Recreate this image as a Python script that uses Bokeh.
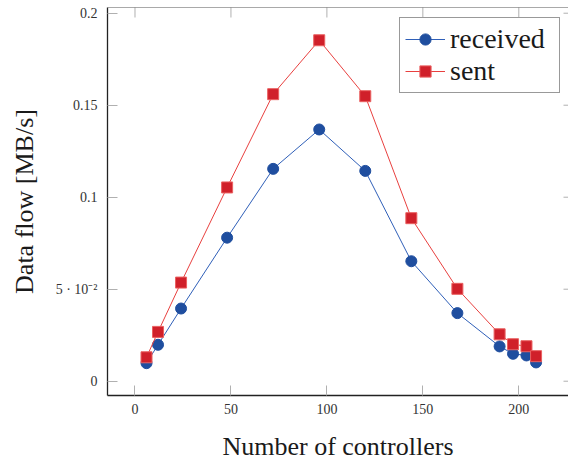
import math
from bokeh.plotting import figure
from bokeh.models import Range1d, FixedTicker, Legend, LegendItem, Span
from bokeh.embed import file_html
from bokeh.resources import INLINE

controllers = [6, 12, 24, 48, 72, 96, 120, 144, 168, 190, 197, 204, 209]
received = [0.0098, 0.0198, 0.0395, 0.078, 0.1154, 0.1368, 0.1143, 0.0652,
            0.037, 0.0189, 0.0149, 0.0140, 0.0102]
sent = [0.0130, 0.0268, 0.0536, 0.1053, 0.1560, 0.1853, 0.1549, 0.0886,
        0.0502, 0.0255, 0.0201, 0.0190, 0.0136]
x_ticks = [0, 50, 100, 150, 200]
y_ticks = [0, 0.05, 0.1, 0.15, 0.2]
y_tick_labels = ["0", "5 · 10⁻²", "0.1", "0.15", "0.2"]

SERIF = "'Liberation Serif', 'Times New Roman', serif"
AXIS_COL = "#222222"
TICK_COL = "#b0b0b0"

X0, X1 = -14.33, 225.9
Y0, Y1 = -0.00777, 0.2031

p = figure(width=568, height=465, output_backend="svg", toolbar_location=None,
           x_range=Range1d(X0, X1), y_range=Range1d(Y0, Y1),
           min_border_left=107, min_border_right=0, min_border_top=7,
           min_border_bottom=70)
p.outline_line_color = None
p.xgrid.visible = False
p.ygrid.visible = False

for ax in (p.xaxis[0], p.yaxis[0]):
    ax.axis_line_color = AXIS_COL
    ax.axis_line_width = 1.3
    ax.major_tick_in = 10
    ax.major_tick_out = 0
    ax.major_tick_line_color = TICK_COL
    ax.minor_tick_line_color = None
    ax.major_label_text_font = SERIF
    ax.major_label_text_font_size = "14px"
    ax.major_label_text_color = "#333333"
    ax.axis_label_text_font = SERIF
    ax.axis_label_text_font_size = "26px"
    ax.axis_label_text_font_style = "normal"
    ax.axis_label_text_color = "#1a1a1a"

p.xaxis[0].ticker = FixedTicker(ticks=x_ticks)
p.yaxis[0].ticker = FixedTicker(ticks=y_ticks)
p.yaxis[0].major_label_overrides = dict(zip(y_ticks, y_tick_labels))
p.xaxis[0].axis_label = "Number of controllers"
p.yaxis[0].axis_label = "Data flow [MB/s]"
p.xaxis[0].major_label_standoff = 8
p.xaxis[0].axis_label_standoff = 15
p.yaxis[0].major_label_standoff = 10
p.yaxis[0].axis_label_standoff = 14

# top frame line and inward ticks on top / right edges
p.add_layout(Span(location=Y1, dimension="width", line_color="#555555",
                  line_width=1.2))
p.scatter([*x_ticks], [Y1] * len(x_ticks), marker="dash", angle=math.pi / 2,
          size=20, line_color=TICK_COL, line_width=1)
p.scatter([X1] * len(y_ticks), [*y_ticks], marker="dash", size=10,
          line_color=TICK_COL, line_width=1)

BLUE_LINE = "#2f5fb8"
BLUE_FILL = "#1f4e9f"
RED_LINE = "#e8403f"
RED_FILL = "#d0202a"
RED_EDGE = "#ea6060"

l1 = p.line(controllers, received, line_color=BLUE_LINE, line_width=1)
s1 = p.scatter(controllers, received, marker="circle", size=11,
               fill_color=BLUE_FILL, line_color=BLUE_FILL)
l2 = p.line(controllers, sent, line_color=RED_LINE, line_width=1)
s2 = p.scatter(controllers, sent, marker="square", size=11,
               fill_color=RED_FILL, line_color=RED_EDGE, line_width=1)

legend = Legend(items=[LegendItem(label="received", renderers=[l1, s1]),
                       LegendItem(label="sent", renderers=[l2, s2])],
                location=(292, 302))
legend.label_text_font = SERIF
legend.label_text_font_size = "28px"
legend.label_text_color = "#1a1a1a"
legend.glyph_width = 40
legend.glyph_height = 28
legend.label_height = 28
legend.label_width = 104
legend.label_standoff = 5
legend.padding = 5
legend.spacing = 0
legend.margin = 0
legend.border_line_color = "#333333"
legend.border_line_width = 1
legend.background_fill_color = "white"
legend.background_fill_alpha = 1
p.add_layout(legend)

open("out.html", "w").write(file_html(p, INLINE))
